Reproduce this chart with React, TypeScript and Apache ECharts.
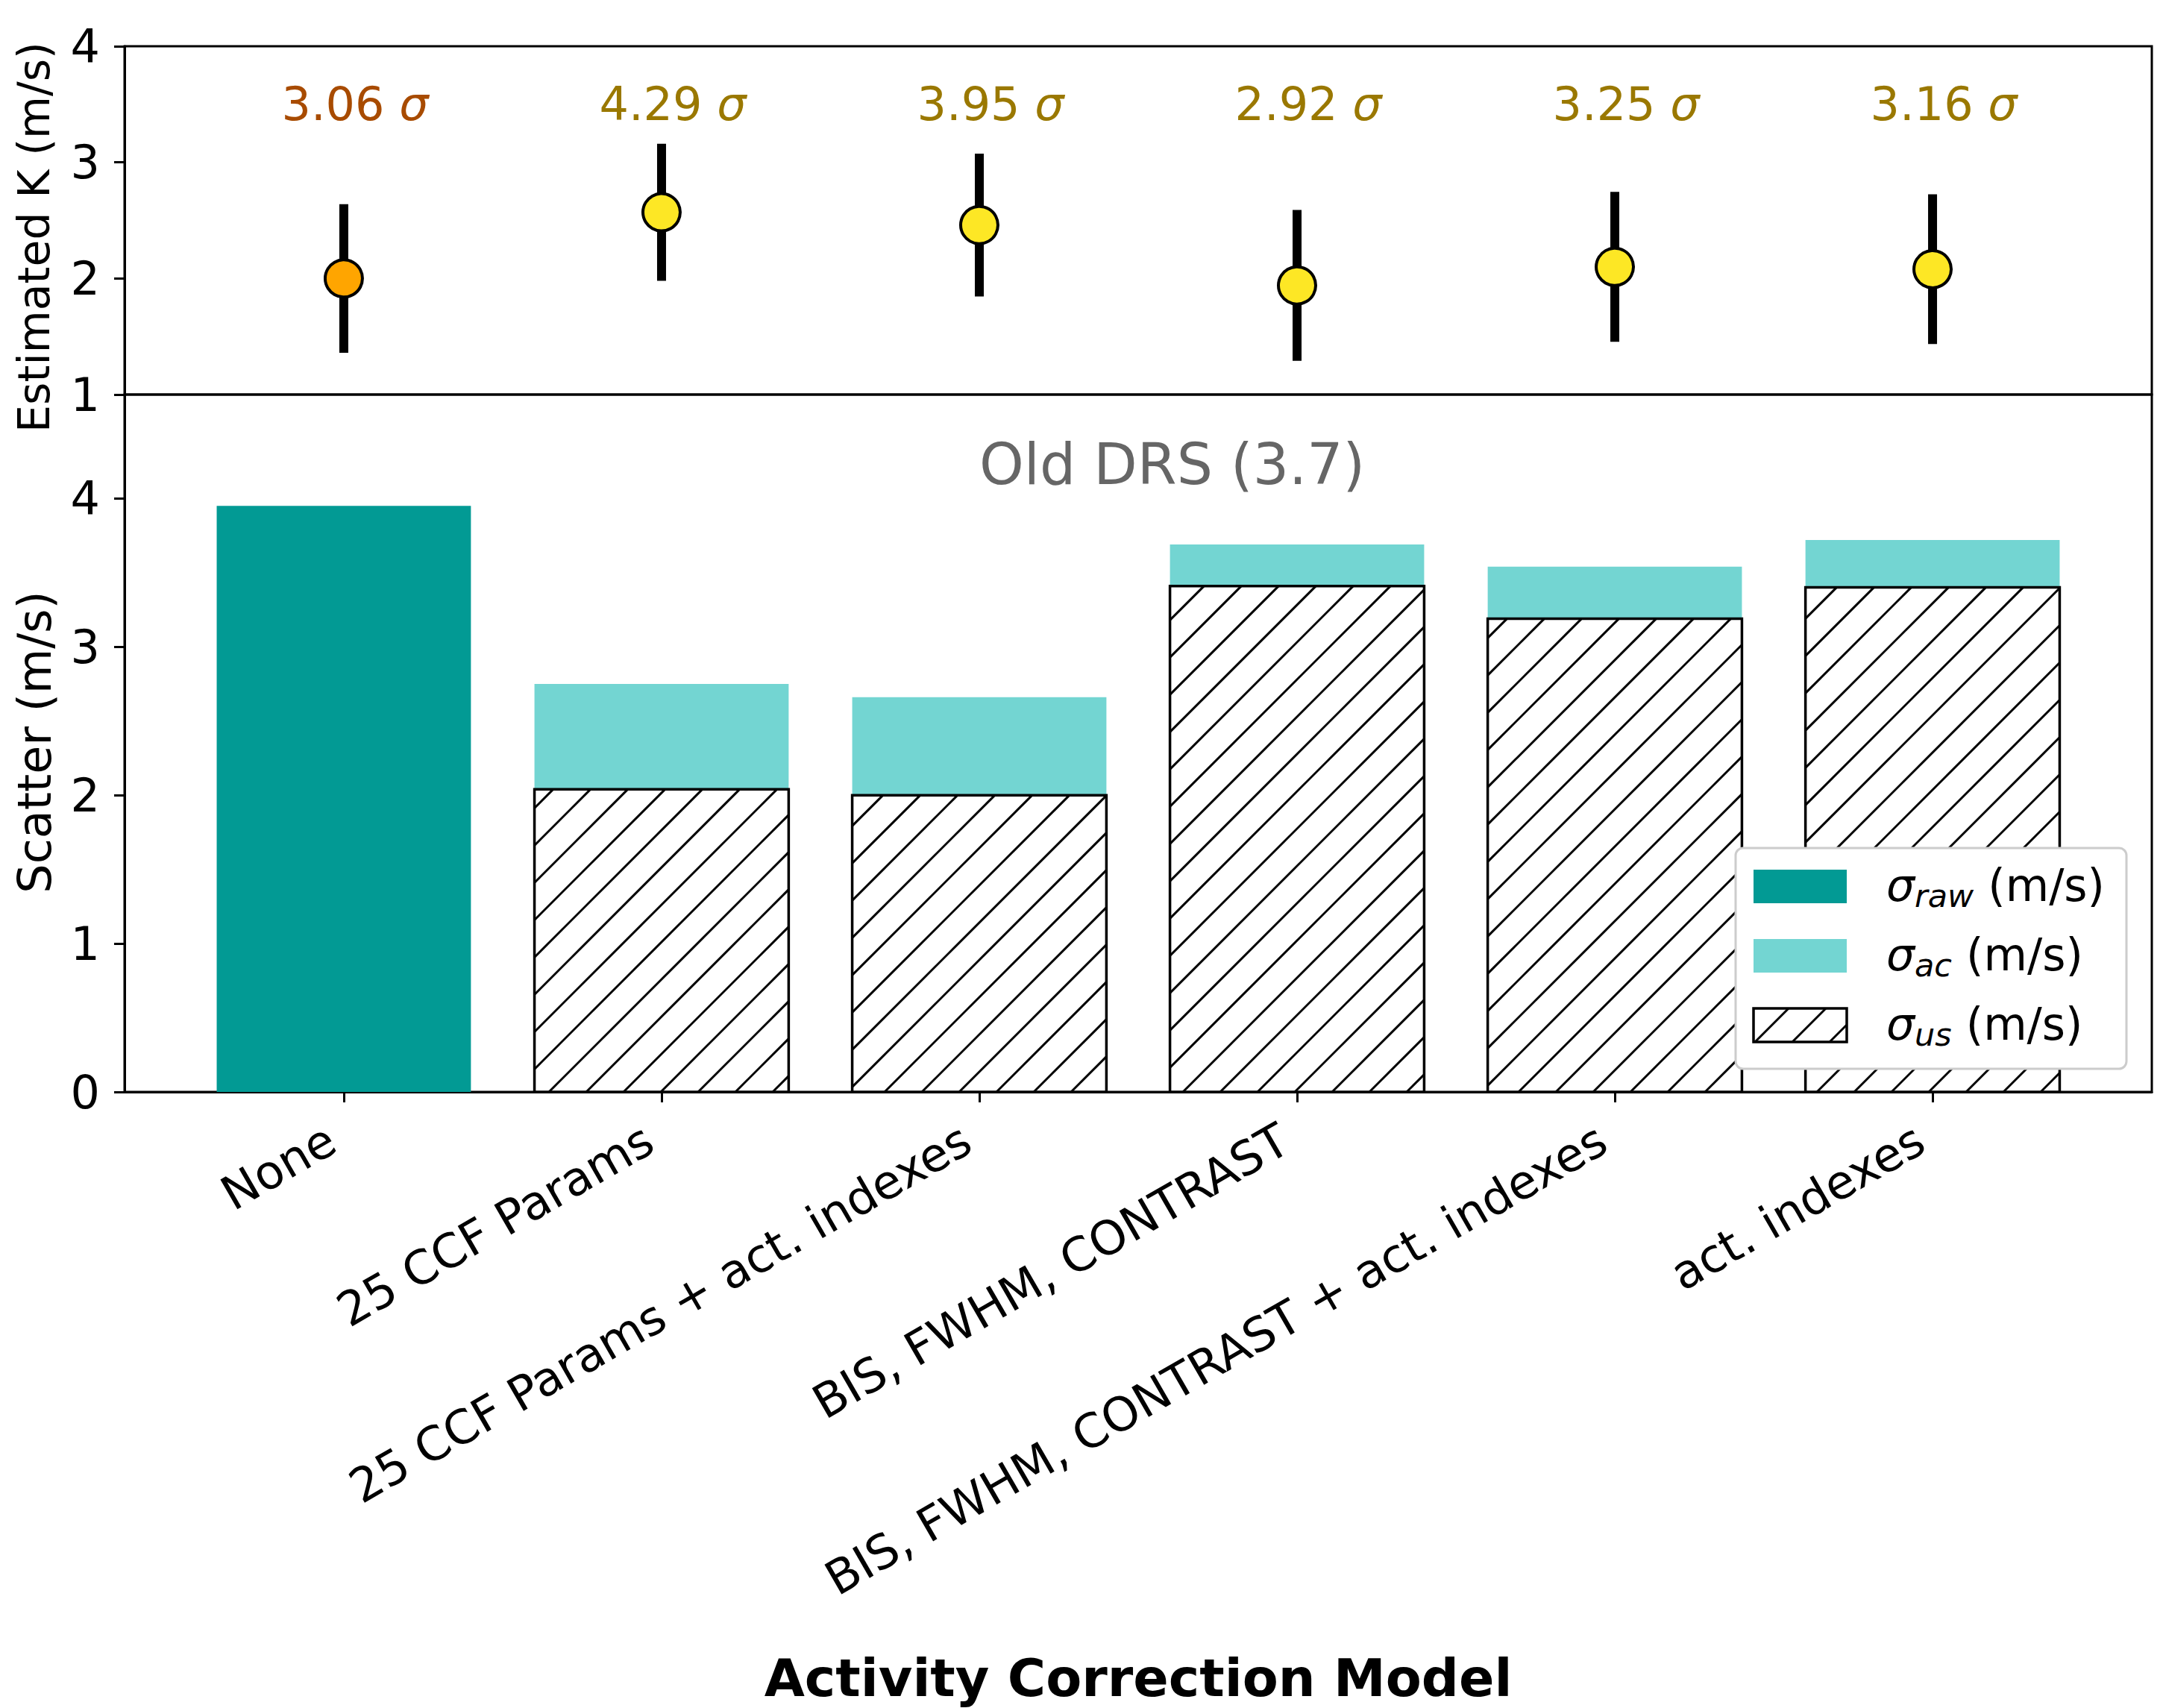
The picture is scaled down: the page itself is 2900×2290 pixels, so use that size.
import React, { useEffect, useRef } from 'react';
import * as echarts from 'echarts';

// ---------------- data ----------------
const categories = [
  'None',
  '25 CCF Params',
  '25 CCF Params + act. indexes',
  'BIS, FWHM, CONTRAST',
  'BIS, FWHM, CONTRAST + act. indexes',
  'act. indexes',
];
const kValues = [2.0, 2.57, 2.46, 1.94, 2.1, 2.08];
const kErrors = [0.64, 0.59, 0.615, 0.65, 0.645, 0.645];
const significance = ['3.06', '4.29', '3.95', '2.92', '3.25', '3.16'];
const markerColors = ['#FFA500', '#FDE725', '#FDE725', '#FDE725', '#FDE725', '#FDE725'];
const significanceColors = ['#A84B00', '#9A7800', '#9A7800', '#9A7800', '#9A7800', '#9A7800'];
const rawScatter = [3.95, null, null, null, null, null];
const acScatter = [null, 2.75, 2.66, 3.69, 3.54, 3.72];
const usScatter = [null, 2.04, 2.0, 3.41, 3.19, 3.4];
const oldDrsLabel = 'Old DRS (3.7)';
const kTicks = [1, 2, 3, 4];
const scatterTicks = [0, 1, 2, 3, 4];

// ---------------- style ----------------
const FONT = 'DejaVu Sans';
const X_MIN = -0.69;
const X_MAX = 5.69;
const BAR_W = 0.8;
const HATCH = 50;
const RAW_COLOR = '#029A94';
const AC_COLOR = '#73D5D2';

function hatchSegments(x0: number, y0: number, x1: number, y1: number, spacing: number) {
  const segs: number[][] = [];
  const cmin = x0 + y0;
  const cmax = x1 + y1;
  for (let k = Math.ceil(cmin / spacing); k <= Math.floor(cmax / spacing); k++) {
    const c = k * spacing;
    const xa = Math.max(x0, c - y1);
    const xb = Math.min(x1, c - y0);
    if (xb - xa > 0.5) segs.push([xa, c - xa, xb, c - xb]);
  }
  return segs;
}

function hatchedRectEls(x0: number, y0: number, x1: number, y1: number, z?: number) {
  const withZ = (el: any) => (z == null ? el : { ...el, z });
  const els: any[] = [
    withZ({ type: 'rect', shape: { x: x0, y: y0, width: x1 - x0, height: y1 - y0 }, style: { fill: '#fff' } }),
  ];
  hatchSegments(x0, y0, x1, y1, HATCH).forEach((s) => {
    els.push(
      withZ({
        type: 'line',
        shape: { x1: s[0], y1: s[1], x2: s[2], y2: s[3] },
        style: { stroke: '#000', lineWidth: 3 },
      })
    );
  });
  els.push(
    withZ({
      type: 'rect',
      shape: { x: x0, y: y0, width: x1 - x0, height: y1 - y0 },
      style: { fill: 'none', stroke: '#000', lineWidth: 3.5 },
    })
  );
  return els;
}

function barSeries(values: (number | null)[], kind: 'raw' | 'ac' | 'us') {
  const data = values.map((v, i) => [i, v == null ? 0 : v]);
  return {
    type: 'custom',
    xAxisIndex: 1,
    yAxisIndex: 1,
    data,
    renderItem: (params: any, api: any) => {
      const i = params.dataIndex;
      const v = values[i];
      if (v == null) return null;
      const p0 = api.coord([i - BAR_W / 2, v]);
      const p1 = api.coord([i + BAR_W / 2, 0]);
      if (kind === 'us') {
        return { type: 'group', children: hatchedRectEls(p0[0], p0[1], p1[0], p1[1]) };
      }
      return {
        type: 'rect',
        shape: { x: p0[0], y: p0[1], width: p1[0] - p0[0], height: p1[1] - p0[1] },
        style: { fill: kind === 'raw' ? RAW_COLOR : AC_COLOR },
      };
    },
  };
}

export default function App() {
  const ref = useRef<HTMLDivElement>(null);

  useEffect(() => {
    if (!ref.current) return;
    const chart = echarts.init(ref.current, null, { renderer: 'svg' });
    const tickVals = categories.map((_, i) => i);

    const axisLineStyle = { show: true, onZero: false, lineStyle: { color: '#000', width: 3 } };
    const tickStyle = { show: true, length: 14, lineStyle: { color: '#000', width: 3 } };
    const labelBase = { fontSize: 62, fontFamily: FONT, color: '#000' };

    // legend
    const LX = 2327, LY = 1137, LW = 524, LH = 296;
    const px0 = 2351, px1 = 2476;
    const rows = [1166, 1259, 1352];
    const ph = 45;
    const legendTexts = ['raw', 'ac', 'us'];
    const richLegend = {
      s: { fontSize: 60, fontStyle: 'italic', fontFamily: FONT, fill: '#000', color: '#000', lineHeight: 72, verticalAlign: 'middle' },
      sub: { fontSize: 43, fontStyle: 'italic', fontFamily: FONT, fill: '#000', color: '#000', lineHeight: 30, verticalAlign: 'bottom' },
      n: { fontSize: 60, fontFamily: FONT, fill: '#000', color: '#000', lineHeight: 72, verticalAlign: 'middle' },
    };
    const legendEls: any[] = [
      {
        type: 'rect',
        z: 100,
        shape: { x: LX, y: LY, width: LW, height: LH, r: 10 },
        style: { fill: '#ffffff', stroke: '#cccccc', lineWidth: 3 },
      },
      { type: 'rect', z: 101, shape: { x: px0, y: rows[0], width: px1 - px0, height: ph }, style: { fill: RAW_COLOR } },
      { type: 'rect', z: 101, shape: { x: px0, y: rows[1], width: px1 - px0, height: ph }, style: { fill: AC_COLOR } },
      ...hatchedRectEls(px0, rows[2], px1, rows[2] + ph, 101),
    ];
    legendTexts.forEach((t, k) => {
      legendEls.push({
        type: 'text',
        z: 102,
        x: 2529,
        y: rows[k] + ph / 2 - 2,
        style: {
          text: `{s|σ}{sub|${t}}{n| (m/s)}`,
          rich: richLegend,
          align: 'left',
          textAlign: 'left',
          verticalAlign: 'middle',
          textVerticalAlign: 'middle',
        },
      });
    });

    const yName = (text: string, x: number, y: number, size: number) => ({
      type: 'text',
      z: 100,
      x,
      y,
      rotation: Math.PI / 2,
      style: {
        text,
        fontSize: size,
        fontFamily: FONT,
        fill: '#000',
        align: 'center',
        textAlign: 'center',
        verticalAlign: 'middle',
        textVerticalAlign: 'middle',
      },
    });

    const option: any = {
      animation: false,
      backgroundColor: '#ffffff',
      grid: [
        { left: 167, top: 62, width: 2718, height: 467, show: true, borderColor: '#000', borderWidth: 3, backgroundColor: 'transparent' },
        { left: 167, top: 529, width: 2718, height: 935, show: true, borderColor: '#000', borderWidth: 3, backgroundColor: 'transparent' },
      ],
      xAxis: [
        { gridIndex: 0, type: 'value', min: X_MIN, max: X_MAX, show: false, splitLine: { show: false } },
        {
          gridIndex: 1,
          type: 'value',
          min: X_MIN,
          max: X_MAX,
          axisLine: axisLineStyle,
          axisTick: { ...tickStyle, customValues: tickVals },
          axisLabel: {
            ...labelBase,
            fontSize: 63,
            customValues: tickVals,
            formatter: (v: number) => (Math.abs(v - Math.round(v)) < 1e-6 ? categories[Math.round(v)] ?? '' : ''),
            rotate: 30,
            margin: 50,
            padding: [0, 19, 0, 0],
          },
          splitLine: { show: false },
        },
      ],
      yAxis: [
        {
          gridIndex: 0,
          type: 'value',
          min: 1,
          max: 4,
          interval: 1,
          axisLine: axisLineStyle,
          axisTick: { ...tickStyle, customValues: kTicks },
          axisLabel: { ...labelBase, margin: 33, customValues: kTicks },
          splitLine: { show: false },
        },
        {
          gridIndex: 1,
          type: 'value',
          min: 0,
          max: 4.7,
          interval: 1,
          axisLine: axisLineStyle,
          axisTick: { ...tickStyle, customValues: scatterTicks },
          axisLabel: {
            ...labelBase,
            margin: 33,
            customValues: scatterTicks,
            formatter: (v: number) => (Math.abs(v - Math.round(v)) < 1e-6 ? String(Math.round(v)) : ''),
          },
          splitLine: { show: false },
        },
      ],
      series: [
        barSeries(rawScatter, 'raw'),
        barSeries(acScatter, 'ac'),
        barSeries(usScatter, 'us'),
        {
          type: 'custom',
          xAxisIndex: 0,
          yAxisIndex: 0,
          data: kValues.map((k, i) => [i, k, kErrors[i]]),
          renderItem: (params: any, api: any) => {
            const i = params.dataIndex;
            const k = kValues[i];
            const e = kErrors[i];
            const top = api.coord([i, k + e]);
            const bot = api.coord([i, k - e]);
            const c = api.coord([i, k]);
            return {
              type: 'group',
              children: [
                { type: 'line', shape: { x1: top[0], y1: top[1], x2: bot[0], y2: bot[1] }, style: { stroke: '#000', lineWidth: 12 } },
                { type: 'circle', shape: { cx: c[0], cy: c[1], r: 25 }, style: { fill: markerColors[i], stroke: '#000', lineWidth: 4 } },
              ],
            };
          },
        },
        {
          type: 'custom',
          xAxisIndex: 0,
          yAxisIndex: 0,
          data: significance.map((s, i) => [i, 3.5]),
          renderItem: (params: any, api: any) => {
            const i = params.dataIndex;
            const p = api.coord([i, 3.5]);
            const col = significanceColors[i];
            return {
              type: 'text',
              x: p[0] + 15,
              y: p[1],
              style: {
                text: `{n|${significance[i]} }{s|σ}`,
                rich: {
                  n: { fontSize: 62, fontFamily: FONT, fill: col, color: col },
                  s: { fontSize: 62, fontFamily: FONT, fontStyle: 'italic', fill: col, color: col },
                },
                align: 'center',
                verticalAlign: 'middle',
              },
            };
          },
        },
        {
          type: 'custom',
          xAxisIndex: 1,
          yAxisIndex: 1,
          data: [[2.0, 4.23]],
          renderItem: (params: any, api: any) => {
            const p = api.coord([2.0, 4.23]);
            return {
              type: 'text',
              x: p[0],
              y: p[1],
              style: {
                text: oldDrsLabel,
                fontSize: 76,
                fontFamily: FONT,
                fill: '#666666',
                align: 'left',
                verticalAlign: 'middle',
              },
            };
          },
        },
      ],
      graphic: [
        ...legendEls,
        yName('Estimated K (m/s)', 46, 318, 58.5),
        yName('Scatter (m/s)', 46, 995, 62),
        {
          type: 'text',
          z: 100,
          x: 1526,
          y: 2250,
          style: {
            text: 'Activity Correction Model',
            fontSize: 70,
            lineHeight: 70,
            fontWeight: 'bold',
            fontFamily: FONT,
            fill: '#000',
            align: 'center',
            textAlign: 'center',
            verticalAlign: 'middle',
            textVerticalAlign: 'middle',
          },
        },
      ],
    };

    chart.setOption(option);
    return () => chart.dispose();
  }, []);

  return (
    <div
      ref={ref}
      style={{ position: 'absolute', left: 0, top: 0, width: 2900, height: 2290, background: '#fff' }}
    />
  );
}
